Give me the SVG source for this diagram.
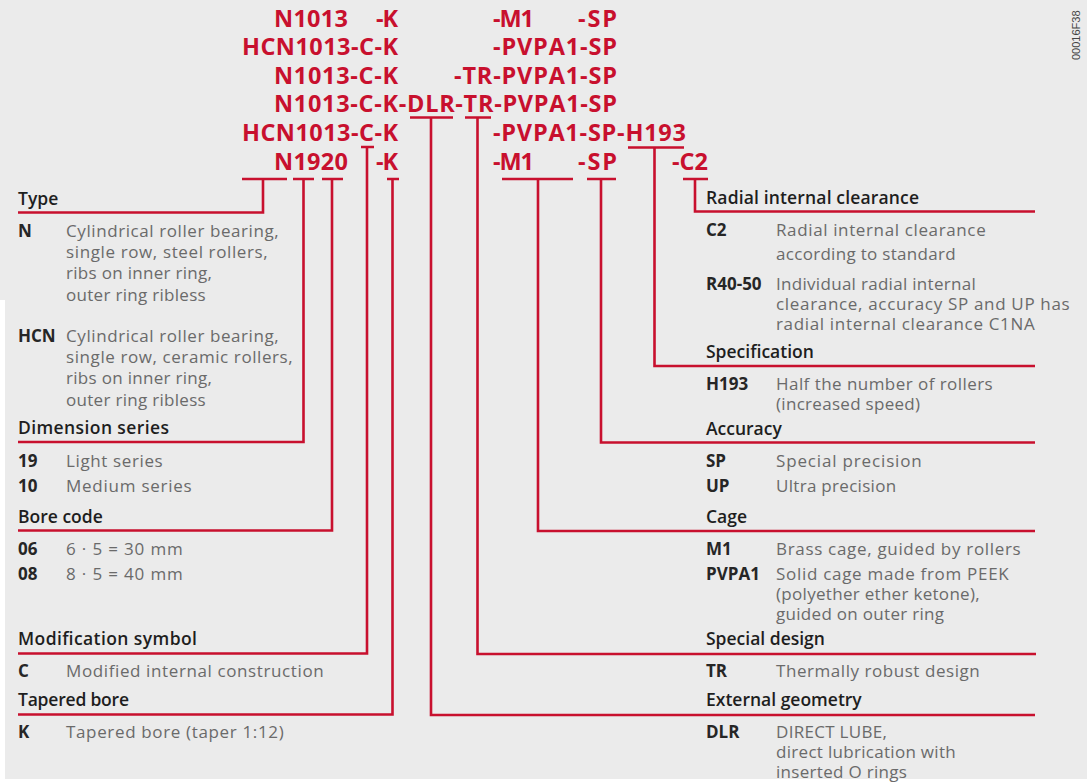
<svg xmlns="http://www.w3.org/2000/svg" width="1087" height="783" viewBox="0 0 1087 783">
<style>
.code{font-family:"Open Sans","Liberation Sans",sans-serif;font-weight:700;font-size:23.5px;fill:#c8102e}
.h{font-family:"Open Sans","Liberation Sans",sans-serif;font-weight:600;font-size:17.5px;fill:#1e1e1e}
.k{font-family:"Open Sans","Liberation Sans",sans-serif;font-weight:700;font-size:17px;fill:#262626}
.t{font-family:"Open Sans","Liberation Sans",sans-serif;font-size:17px;fill:#6a6a6a;letter-spacing:0.3px}
.ln{fill:none;stroke:#c8102e;stroke-width:2.6;stroke-linecap:butt;stroke-linejoin:miter}
.id{font-family:"Liberation Sans",sans-serif;font-size:11px;fill:#444}
</style>
<rect x="0" y="0" width="1087" height="783" fill="#ebebeb"/>
<rect x="0" y="779" width="1087" height="4" fill="#ffffff"/>
<rect x="0" y="300" width="5" height="483" fill="#ffffff"/>
<text class="id" transform="translate(1080,60) rotate(-90)">00016F38</text>
<g id="designations">
<text class="code" x="274" y="26.5" textLength="74">N1013</text>
<text class="code" x="376" y="26.5" textLength="22">-K</text>
<text class="code" x="493" y="26.5" textLength="41">-M1</text>
<text class="code" x="578" y="26.5" textLength="39">-SP</text>
<text class="code" x="242" y="55" textLength="156">HCN1013-C-K</text>
<text class="code" x="493" y="55" textLength="124">-PVPA1-SP</text>
<text class="code" x="274" y="83.5" textLength="124">N1013-C-K</text>
<text class="code" x="454" y="83.5" textLength="163">-TR-PVPA1-SP</text>
<text class="code" x="274" y="112" textLength="343">N1013-C-K-DLR-TR-PVPA1-SP</text>
<text class="code" x="242" y="140.5" textLength="156">HCN1013-C-K</text>
<text class="code" x="493" y="140.5" textLength="193">-PVPA1-SP-H193</text>
<text class="code" x="274" y="170" textLength="74">N1920</text>
<text class="code" x="376" y="170" textLength="22">-K</text>
<text class="code" x="493" y="170" textLength="41">-M1</text>
<text class="code" x="578" y="170" textLength="39">-SP</text>
<text class="code" x="672" y="170" textLength="36">-C2</text>
</g>
<g id="connectors">
<path class="ln" d="M242,179 H287 M263,179 V212.5 H18"/>
<path class="ln" d="M293,179 H314 M303.5,179 V442 H18"/>
<path class="ln" d="M322,179 H343 M332,179 V530.5 H18"/>
<path class="ln" d="M361,147 H374 M367,147 V653.5 H18"/>
<path class="ln" d="M387,179 H399 M392.5,179 V714.5 H18"/>
<path class="ln" d="M410,117.5 H453 M431,117.5 V715 H1035"/>
<path class="ln" d="M465,117.5 H491 M477.5,117.5 V654 H1036"/>
<path class="ln" d="M502,179 H573 M538,179 V531 H1035"/>
<path class="ln" d="M587,179 H616 M601,179 V442.5 H1035"/>
<path class="ln" d="M628,147.5 H684 M654.5,147.5 V366 H1035"/>
<path class="ln" d="M683,179 H708 M695,179 V211.5 H1035"/>
</g>
<g id="type">
<text class="h" x="18" y="205">Type</text>
<text class="k" x="18" y="236.7">N</text>
<text class="t" x="66" y="236.7" textLength="213">Cylindrical roller bearing,</text>
<text class="t" x="66" y="258" textLength="202">single row, steel rollers,</text>
<text class="t" x="66" y="279.3">ribs on inner ring,</text>
<text class="t" x="66" y="300.7">outer ring ribless</text>
<text class="k" x="18" y="341.7">HCN</text>
<text class="t" x="66" y="341.7" textLength="213">Cylindrical roller bearing,</text>
<text class="t" x="66" y="363" textLength="227">single row, ceramic rollers,</text>
<text class="t" x="66" y="384.3">ribs on inner ring,</text>
<text class="t" x="66" y="405.7">outer ring ribless</text>
</g>
<g id="dimension-series">
<text class="h" x="18" y="434" textLength="151">Dimension series</text>
<text class="k" x="18" y="466.7">19</text>
<text class="t" x="66" y="466.7" textLength="97">Light series</text>
<text class="k" x="18" y="491.7">10</text>
<text class="t" x="66" y="491.7" textLength="126">Medium series</text>
</g>
<g id="bore-code">
<text class="h" x="18" y="522.7">Bore code</text>
<text class="k" x="18" y="555">06</text>
<text class="t" x="66" y="555" textLength="117">6 · 5 = 30 mm</text>
<text class="k" x="18" y="580">08</text>
<text class="t" x="66" y="580" textLength="117">8 · 5 = 40 mm</text>
</g>
<g id="modification-symbol">
<text class="h" x="18" y="645" textLength="179">Modification symbol</text>
<text class="k" x="18" y="676.7">C</text>
<text class="t" x="66" y="676.7" textLength="258">Modified internal construction</text>
</g>
<g id="tapered-bore">
<text class="h" x="18" y="706" textLength="111">Tapered bore</text>
<text class="k" x="18" y="737.7">K</text>
<text class="t" x="66" y="737.7" textLength="218">Tapered bore (taper 1:12)</text>
</g>
<g id="radial-internal-clearance">
<text class="h" x="706" y="204" textLength="213">Radial internal clearance</text>
<text class="k" x="706" y="236">C2</text>
<text class="t" x="776" y="236" textLength="210">Radial internal clearance</text>
<text class="t" x="776" y="260">according to standard</text>
<text class="k" x="706" y="290">R40-50</text>
<text class="t" x="776" y="290">Individual radial internal</text>
<text class="t" x="776" y="310" textLength="294">clearance, accuracy SP and UP has</text>
<text class="t" x="776" y="330" textLength="259">radial internal clearance C1NA</text>
</g>
<g id="specification">
<text class="h" x="706" y="358.3">Specification</text>
<text class="k" x="706" y="390">H193</text>
<text class="t" x="776" y="390" textLength="217">Half the number of rollers</text>
<text class="t" x="776" y="410">(increased speed)</text>
</g>
<g id="accuracy">
<text class="h" x="706" y="435">Accuracy</text>
<text class="k" x="706" y="466.7">SP</text>
<text class="t" x="776" y="466.7" textLength="146">Special precision</text>
<text class="k" x="706" y="491.7">UP</text>
<text class="t" x="776" y="491.7">Ultra precision</text>
</g>
<g id="cage">
<text class="h" x="706" y="522.7">Cage</text>
<text class="k" x="706" y="555">M1</text>
<text class="t" x="776" y="555" textLength="245">Brass cage, guided by rollers</text>
<text class="k" x="706" y="580">PVPA1</text>
<text class="t" x="776" y="580" textLength="233">Solid cage made from PEEK</text>
<text class="t" x="776" y="600">(polyether ether ketone),</text>
<text class="t" x="776" y="620">guided on outer ring</text>
</g>
<g id="special-design">
<text class="h" x="706" y="645">Special design</text>
<text class="k" x="706" y="676.7">TR</text>
<text class="t" x="776" y="676.7" textLength="204">Thermally robust design</text>
</g>
<g id="external-geometry">
<text class="h" x="706" y="706">External geometry</text>
<text class="k" x="706" y="738.3">DLR</text>
<text class="t" x="776" y="738.3">DIRECT LUBE,</text>
<text class="t" x="776" y="758.3">direct lubrication with</text>
<text class="t" x="776" y="778">inserted O rings</text>
</g>
</svg>
